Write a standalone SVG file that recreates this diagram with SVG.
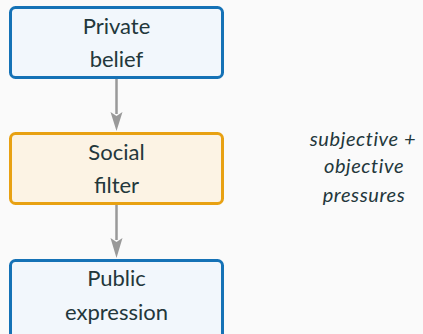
<svg xmlns="http://www.w3.org/2000/svg" width="423" height="334" viewBox="0 0 423 334">
  <style>
    .box-blue { fill: #f2f7fc; stroke: #1572b6; stroke-width: 3; }
    .box-orange { fill: #fcf3e4; stroke: #e8a112; stroke-width: 3; }
    .label { font-family: Lato, "Open Sans", sans-serif; font-size: 22px; fill: #23373b; text-anchor: middle; }
    .note { font-family: Lato, "Open Sans", sans-serif; font-size: 20px; font-style: italic; letter-spacing: 0.6px; fill: #23373b; text-anchor: middle; }
    .edge { stroke: #999999; stroke-width: 2.5; fill: none; }
    .head { fill: #999999; }
  </style>
  <rect width="423" height="334" fill="#fafafa"/>

  <g id="connectors">
    <line class="edge" x1="116.5" y1="78" x2="116.5" y2="114"/>
    <path class="head" d="M110.5 112 L116.5 131 L122.5 112 L116.5 116 Z"/>
    <line class="edge" x1="116.5" y1="204" x2="116.5" y2="240"/>
    <path class="head" d="M110.5 238 L116.5 258 L122.5 238 L116.5 242 Z"/>
  </g>

  <g id="private-belief">
    <rect class="box-blue" x="10.5" y="7.5" width="212" height="70" rx="5"/>
    <text class="label" x="116.5" y="34">Private</text>
    <text class="label" x="116.5" y="67">belief</text>
  </g>

  <g id="social-filter">
    <rect class="box-orange" x="10.5" y="133.5" width="212" height="70" rx="5"/>
    <text class="label" x="116.5" y="160">Social</text>
    <text class="label" x="116.5" y="193">filter</text>
  </g>

  <g id="public-expression">
    <rect class="box-blue" x="10.5" y="260.5" width="212" height="80" rx="5"/>
    <text class="label" x="116.5" y="286">Public</text>
    <text class="label" x="116.5" y="320">expression</text>
  </g>

  <g id="pressures-note">
    <text class="note" x="363" y="146">subjective +</text>
    <text class="note" x="364" y="173">objective</text>
    <text class="note" x="364" y="202">pressures</text>
  </g>
</svg>
